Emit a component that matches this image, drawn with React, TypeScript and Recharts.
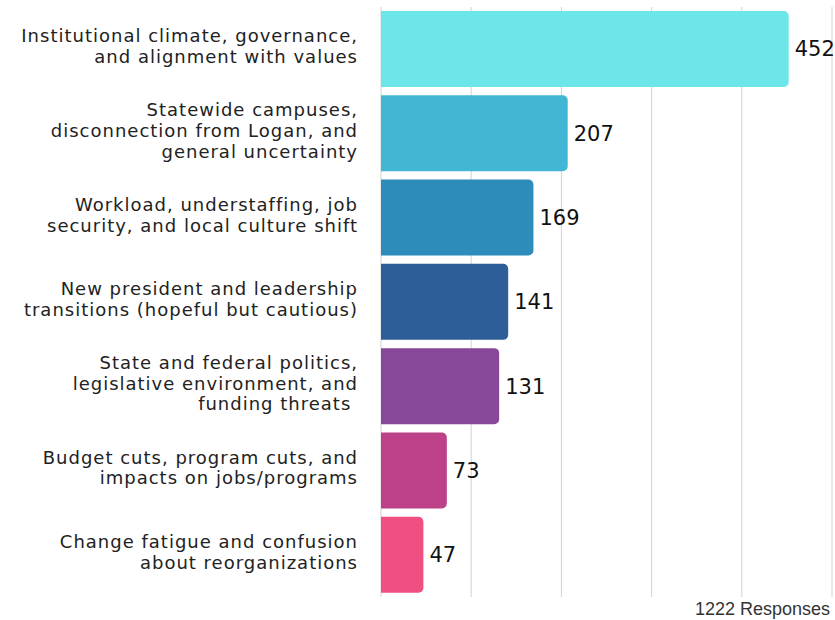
import React from 'react';
import { BarChart, Bar, XAxis, YAxis, CartesianGrid, Cell, LabelList } from 'recharts';

const categories = [
  'Institutional climate, governance,\nand alignment with values',
  'Statewide campuses,\ndisconnection from Logan, and\ngeneral uncertainty',
  'Workload, understaffing, job\nsecurity, and local culture shift',
  'New president and leadership\ntransitions (hopeful but cautious)',
  'State and federal politics,\nlegislative environment, and\nfunding threats ',
  'Budget cuts, program cuts, and\nimpacts on jobs/programs',
  'Change fatigue and confusion\nabout reorganizations',
];
const counts = [452, 207, 169, 141, 131, 73, 47];
const barColors = ['#6ce6e9', '#42b7d5', '#2d8cba', '#2e5e98', '#874899', '#bd4189', '#ef5081'];
const xTicks = [0, 100, 200, 300, 400, 500];
const totalResponses = 1222;

const data = categories.map((name, i) => ({ name, value: counts[i] }));

const FONT = '"DejaVu Sans", Verdana, sans-serif';

// multi-line, right-aligned category labels
const CategoryTick = ({ y, payload }: any) => {
  const lines: string[] = String(payload.value).split('\n');
  const lineH = 20.6;
  const startY = y - ((lines.length - 1) * lineH) / 2 - 3;
  return (
    <g>
      {lines.map((l, i) => (
        <text
          key={i}
          x={358}
          y={startY + i * lineH + 6.5}
          textAnchor="end"
          fill="#222"
          fontSize={18}
          letterSpacing={1}
          fontFamily={FONT}
          style={{ whiteSpace: 'pre' }}
        >
          {l}
        </text>
      ))}
    </g>
  );
};

export default function App() {
  return (
    <div style={{ position: 'absolute', left: 0, top: 0, width: 835, height: 620, background: '#fff' }}>
      <BarChart
        width={835}
        height={600}
        data={data}
        layout="vertical"
        margin={{ top: 7, right: 3, bottom: 3, left: 0 }}
        barSize={76}
      >
        <CartesianGrid horizontal={false} stroke="#d3d3d3" />
        <XAxis
          type="number"
          domain={[0, 500]}
          ticks={xTicks}
          axisLine={false}
          tickLine={false}
          tick={() => <g />}
          height={0}
        />
        <YAxis
          type="category"
          dataKey="name"
          width={381}
          axisLine={false}
          tickLine={false}
          tick={<CategoryTick />}
          interval={0}
        />
        <Bar dataKey="value" radius={[0, 5, 5, 0]} isAnimationActive={false}>
          {data.map((d, i) => (
            <Cell key={`cell-${i}`} fill={barColors[i]} />
          ))}
          <LabelList dataKey="value" position="right" offset={6} fill="#111" fontSize={21} fontFamily={FONT} />
        </Bar>
      </BarChart>
      <div
        style={{
          position: 'absolute',
          right: 5,
          top: 599,
          fontFamily: '"Liberation Sans", Arial, sans-serif',
          fontSize: 18,
          color: '#333',
          lineHeight: '20px',
        }}
      >
        {totalResponses} Responses
      </div>
    </div>
  );
}
